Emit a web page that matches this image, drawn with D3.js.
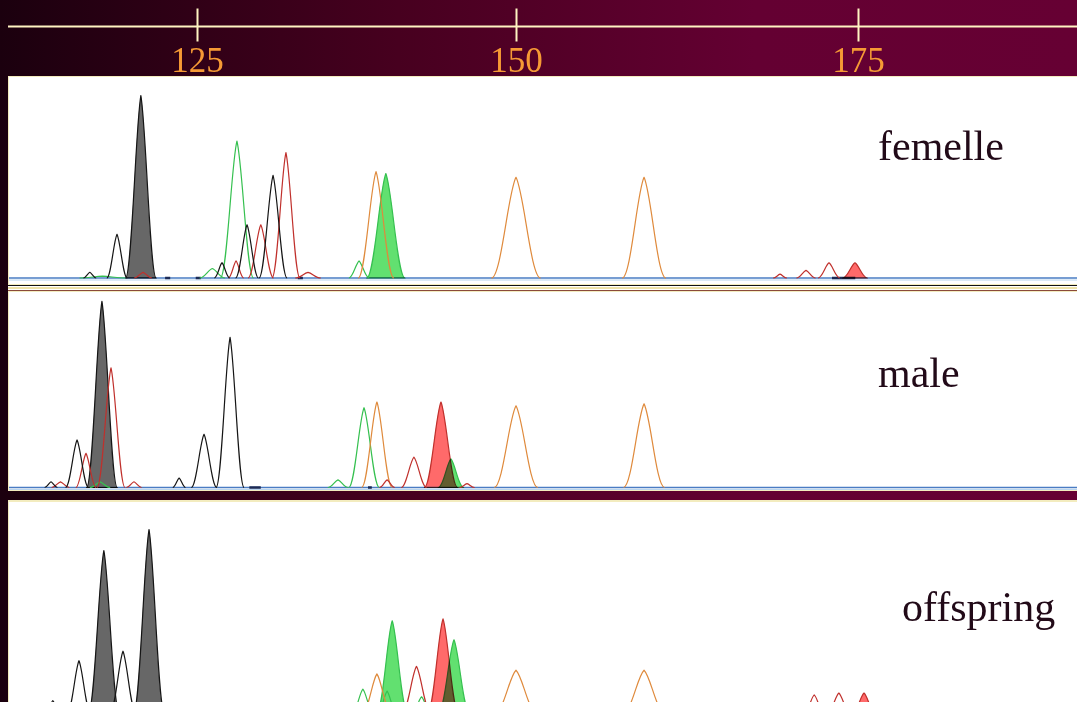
<!DOCTYPE html>
<html>
<head>
<meta charset="utf-8">
<script src="https://cdn.jsdelivr.net/npm/d3@7"></script>
<style>
  body { margin: 0; background: #3a0019; overflow: hidden; }
  svg { display: block; }
</style>
</head>
<body>
<svg id="chart"></svg>
<script>
//size axis (bp) tick labels
var tickValues = [125, 150, 175];
var sampleNames = ["femelle", "male", "offspring"];

//peaks: [size in bp, height (0-100), half width in bp]
var femelleBlack = [[116.6, 3, 0.5], [118.73, 23, 0.8], [126.96, 8, 0.6], [128.92, 28, 0.9], [130.96, 54, 1.1]];
var femelleBlackFilled = [[120.6, 96, 1.2]];
var femelleRed = [[120.77, 3, 0.7], [128.06, 9, 0.6], [130.0, 28, 1.0], [131.97, 66, 1.1], [133.7, 3, 1.0],
                  [169.3, 2, 0.5], [171.2, 4, 0.7], [172.88, 8, 0.8]];
var femelleRedFilled = [[174.78, 8, 0.9]];
var femelleGreen = [[117.6, 1, 1.8], [126.2, 5, 1.0], [128.13, 72, 1.3], [137.7, 9, 0.8]];
var femelleGreenFilled = [[139.8, 55, 1.5]];
var femelleOrange = [[139.03, 56, 1.4], [150.0, 53, 1.8], [159.36, 53, 1.6]];

var maleBlack = [[113.56, 3, 0.5], [115.6, 25, 0.9], [123.6, 5, 0.5], [125.55, 28, 1.0], [127.59, 79, 1.1]];
var maleBlackFilled = [[117.55, 98, 1.2]];
var maleRed = [[114.3, 3, 0.7], [116.3, 18, 0.8], [118.26, 63, 1.1], [120.06, 3, 0.6], [139.9, 4, 0.6],
               [142.0, 16, 1.0], [146.16, 2, 0.6]];
var maleRedFilled = [[144.12, 45, 1.3]];
var maleGreen = [[117.4, 3, 0.8], [136.05, 4, 0.8], [138.09, 42, 1.2]];
var maleGreenFilled = [[144.9, 15, 1.0]];
var maleOrange = [[139.1, 45, 1.2], [150.0, 43, 1.6], [159.36, 44, 1.5]];

var offspringBlack = [[113.7, 6, 0.5], [115.75, 27, 0.9], [119.2, 32, 1.0]];
var offspringBlackFilled = [[117.7, 85, 1.2], [121.24, 96, 1.2]];
var offspringRed = [[117.7, 3, 0.6], [121.3, 3, 0.6], [142.2, 24, 1.1], [169.9, 5, 0.5], [171.8, 9, 0.7], [173.6, 10, 0.8]];
var offspringRedFilled = [[144.28, 49, 1.2], [175.44, 10, 0.8]];
var offspringGreen = [[117.0, 5, 1.5], [138.0, 12, 0.8], [139.9, 11, 0.7], [142.6, 8, 0.7]];
var offspringGreenFilled = [[140.3, 48, 1.2], [145.14, 38, 1.2]];
var offspringOrange = [[139.1, 20, 1.1], [150.0, 22, 1.5], [159.36, 22, 1.5]];

//small bin marks on the baseline: [from bp, to bp]
var femelleMarks = [[122.5, 122.9], [124.9, 125.3], [132.9, 133.3], [173.1, 174.8]];
var maleMarks = [[129.1, 130.0], [138.4, 138.7]];

var width = 1077, height = 702;

//dye colours
var dyes = {
    black:  { stroke: "#151515", fill: "#676767" },
    red:    { stroke: "#c0302c", fill: "#ff6a6a" },
    green:  { stroke: "#35c04f", fill: "#62e070" },
    orange: { stroke: "#df8a3c", fill: "#f3b070" }
};

//panel layout
var panels = [
    { name: sampleNames[0], top: 76, bottom: 284, base: 278, labelX: 878, labelY: 160, marks: femelleMarks,
      traces: [
        { dye: "black", filled: true, peaks: femelleBlackFilled },
        { dye: "green", filled: true, peaks: femelleGreenFilled },
        { dye: "red", filled: true, peaks: femelleRedFilled },
        { dye: "green", filled: false, peaks: femelleGreen },
        { dye: "orange", filled: false, peaks: femelleOrange },
        { dye: "red", filled: false, peaks: femelleRed },
        { dye: "black", filled: false, peaks: femelleBlack }
      ] },
    { name: sampleNames[1], top: 291, bottom: 490, base: 487.5, labelX: 878, labelY: 387, marks: maleMarks,
      traces: [
        { dye: "black", filled: true, peaks: maleBlackFilled },
        { dye: "red", filled: true, peaks: maleRedFilled },
        { dye: "green", filled: true, peaks: maleGreenFilled },
        { dye: "green", filled: false, peaks: maleGreen },
        { dye: "orange", filled: false, peaks: maleOrange },
        { dye: "red", filled: false, peaks: maleRed },
        { dye: "black", filled: false, peaks: maleBlack }
      ] },
    { name: sampleNames[2], top: 501, bottom: 702, base: 712, labelX: 902, labelY: 621, marks: [],
      traces: [
        { dye: "black", filled: true, peaks: offspringBlackFilled },
        { dye: "red", filled: true, peaks: offspringRedFilled },
        { dye: "green", filled: true, peaks: offspringGreenFilled },
        { dye: "green", filled: false, peaks: offspringGreen },
        { dye: "orange", filled: false, peaks: offspringOrange },
        { dye: "red", filled: false, peaks: offspringRed },
        { dye: "black", filled: false, peaks: offspringBlack }
      ] }
];

var svg = d3.select("#chart").attr("width", width).attr("height", height);

//background gradient
var defs = svg.append("defs");
var grad = defs.append("linearGradient").attr("id", "bg").attr("x1", "0").attr("x2", "1").attr("y1", "0").attr("y2", "0");
grad.append("stop").attr("offset", "0").attr("stop-color", "#1b000e");
grad.append("stop").attr("offset", "0.37").attr("stop-color", "#47001f");
grad.append("stop").attr("offset", "0.7").attr("stop-color", "#640032");
grad.append("stop").attr("offset", "1").attr("stop-color", "#660033");
svg.append("rect").attr("width", width).attr("height", height).attr("fill", "url(#bg)");

//size scale (the gel is not quite linear)
var x = d3.scaleLinear().domain(tickValues).range([197, 516, 858]);

//top axis
svg.append("line")
    .attr("x1", 8).attr("x2", width).attr("y1", 26.5).attr("y2", 26.5)
    .attr("stroke", "#fff4c2").attr("stroke-width", 2);
var xaxis = svg.append("g")
    .attr("transform", "translate(0,26.5)")
    .call(d3.axisBottom(x).tickValues(tickValues).tickSize(15).tickFormat(d3.format("d")));
xaxis.select(".domain").remove();
xaxis.selectAll(".tick line").attr("y1", -18).attr("stroke", "#fff4c2").attr("stroke-width", 2);
xaxis.selectAll(".tick text")
    .attr("y", 45).attr("dy", 0)
    .attr("fill", "#f69a35")
    .style("font-family", "'Liberation Serif', 'Times New Roman', serif")
    .style("font-size", "35px");

//draw one peak as a path (closed for filled peaks)
function peakPath(p, y, closed) {
    var c = x(p[0]), w = x(p[0] + p[2]) - c, b = y(0), t = y(p[1]);
    var h = b - t;
    var path = d3.path();
    path.moveTo(c - w, b);
    path.bezierCurveTo(c - w * 0.6, b, c - w * 0.33, t + h * 0.15, c, t);
    path.bezierCurveTo(c + w * 0.33, t + h * 0.15, c + w * 0.6, b, c + w, b);
    if (closed) path.closePath();
    return path.toString();
}

panels.forEach(function (panel, i) {
    var y = d3.scaleLinear().domain([0, 100]).range([panel.base, panel.base - 190]);

    defs.append("clipPath").attr("id", "clip" + i)
        .append("rect").attr("x", 9).attr("y", panel.top).attr("width", width - 9).attr("height", panel.bottom - panel.top);

    //white panel with cream edge
    svg.append("rect")
        .attr("x", 8.5).attr("y", panel.top + 0.5)
        .attr("width", width).attr("height", panel.bottom - panel.top)
        .attr("fill", "#ffffff").attr("stroke", "#f3ecbf").attr("stroke-width", 1);

    var g = svg.append("g").attr("clip-path", "url(#clip" + i + ")");

    //baseline
    g.append("line").attr("x1", 9).attr("x2", width).attr("y1", y(0) + 2).attr("y2", y(0) + 2)
        .attr("stroke", "#b8d4ee").attr("stroke-width", 1);
    g.append("line").attr("x1", 9).attr("x2", width).attr("y1", y(0)).attr("y2", y(0))
        .attr("stroke", "#4a7cc3").attr("stroke-width", 1.5);
    g.selectAll(".mark").data(panel.marks).enter().append("line")
        .attr("x1", function (d) { return x(d[0]); })
        .attr("x2", function (d) { return x(d[1]); })
        .attr("y1", y(0)).attr("y2", y(0))
        .attr("stroke", "#1c2a55").attr("stroke-width", 2.5);

    //traces
    panel.traces.forEach(function (tr) {
        var style = dyes[tr.dye];
        g.append("g").selectAll("path").data(tr.peaks).enter().append("path")
            .attr("d", function (d) { return peakPath(d, y, tr.filled); })
            .attr("fill", tr.filled ? style.fill : "none")
            .attr("stroke", style.stroke)
            .attr("stroke-width", 1.2)
            .attr("stroke-linejoin", "round")
            .style("mix-blend-mode", tr.filled ? "multiply" : "normal");
    });

    //sample name
    svg.append("text")
        .attr("x", panel.labelX).attr("y", panel.labelY)
        .attr("fill", "#220a18")
        .style("font-family", "'Liberation Serif', 'Times New Roman', serif")
        .style("font-size", "42px")
        .text(panel.name);
});

//separator lines between femelle and male
svg.append("rect").attr("x", 8).attr("y", 286).attr("width", width).attr("height", 5).attr("fill", "#ffffff");
svg.append("line").attr("x1", 8).attr("x2", width).attr("y1", 285.5).attr("y2", 285.5).attr("stroke", "#111").attr("stroke-width", 1);
svg.append("line").attr("x1", 8).attr("x2", width).attr("y1", 288).attr("y2", 288).attr("stroke", "#e8d98a").attr("stroke-width", 1.5);
svg.append("line").attr("x1", 8).attr("x2", width).attr("y1", 290.5).attr("y2", 290.5).attr("stroke", "#8a4a3a").attr("stroke-width", 1);

//cream lines around the maroon band
svg.append("line").attr("x1", 8).attr("x2", width).attr("y1", 490.5).attr("y2", 490.5).attr("stroke", "#f3ecbf").attr("stroke-width", 1);
svg.append("line").attr("x1", 8).attr("x2", width).attr("y1", 500.5).attr("y2", 500.5).attr("stroke", "#f3ecbf").attr("stroke-width", 1);
</script>
</body>
</html>
